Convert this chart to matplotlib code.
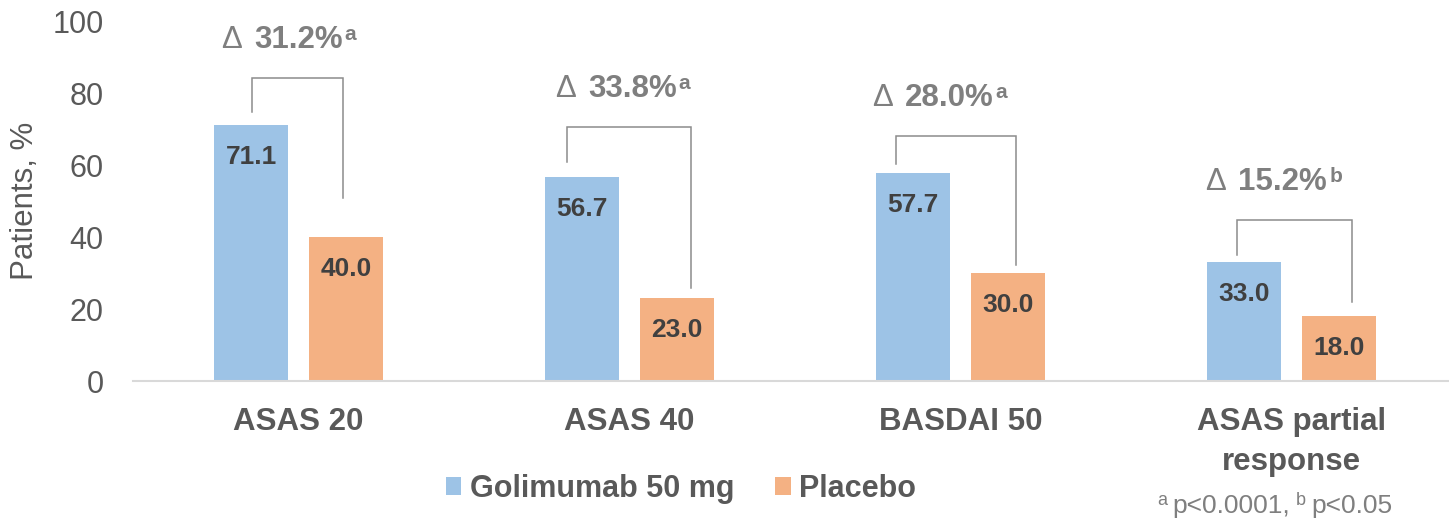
import matplotlib
matplotlib.use('Agg')
import matplotlib.pyplot as plt
import numpy as np
from matplotlib.transforms import ScaledTranslation

plt.rcParams['font.family'] = ['Liberation Sans', 'DejaVu Sans']

categories = ['ASAS 20', 'ASAS 40', 'BASDAI 50', 'ASAS partial\nresponse']
golimumab = [71.1, 56.7, 57.7, 33.0]
placebo = [40.0, 23.0, 30.0, 18.0]
deltas = ['31.2%', '33.8%', '28.0%', '15.2%']
sig_marks = ['a', 'a', 'a', 'b']

# bracket layout (gaps above the bars, height of the top line, x offsets)
bracket_lgap = [3.7, 4.0, 2.7, 2.0]
bracket_rgap = [10.7, 2.7, 2.2, 4.0]
bracket_rise = [13.0, 13.9, 10.4, 11.7]
bracket_dx = [(-0.141, 0.135), (-0.190, 0.185), (-0.196, 0.168), (-0.166, 0.182)]
label_dx = [0.0, 0.008, -0.035, -0.026]

BLUE = '#9DC3E6'
ORANGE = '#F4B183'
GRAY_TXT = '#595959'
DELTA_TXT = '#7F7F7F'

fig = plt.figure(figsize=(14.49, 5.2), dpi=100)
ax = fig.add_axes([0.0918, 0.2673, 0.9137, 0.6923])
renderer = fig.canvas.get_renderer()


def text_run(x0, y0, parts, transform, color, center_on=None, right=False):
    # parts: (text, size, weight, rise_px, gap_px) drawn left to right on one baseline
    arts, widths = [], []
    for s, size, weight, rise, gap in parts:
        t = ax.text(x0, y0, s, transform=transform, fontsize=size, weight=weight,
                    color=color, ha='left', va='baseline', clip_on=False)
        arts.append(t)
        widths.append(t.get_window_extent(renderer).width)
    lefts = []
    pos = 0
    for (s, size, weight, rise, gap), w in zip(parts, widths):
        pos += gap
        lefts.append(pos)
        pos += w
    if right:
        start = -pos
    else:
        start = -(lefts[center_on] + widths[center_on] / 2)
    for t, l, p in zip(arts, lefts, parts):
        t.set_transform(transform + ScaledTranslation((start + l) / fig.dpi,
                                                      p[3] / fig.dpi,
                                                      fig.dpi_scale_trans))


x = np.arange(len(categories))
w = 0.2236
off = 0.1435
b1 = ax.bar(x - off, golimumab, w, color=BLUE, label='Golimumab 50 mg')
b2 = ax.bar(x + off, placebo, w, color=ORANGE, label='Placebo')

for bars in (b1, b2):
    for bar in bars:
        v = bar.get_height()
        ax.annotate(f'{v:.1f}', xy=(bar.get_x() + bar.get_width() / 2, v),
                    xytext=(0, -28), textcoords='offset points', ha='center',
                    va='baseline', fontsize=19, weight='bold', color='#404040')

# significance brackets + difference labels
for i in range(len(categories)):
    xl = x[i] + bracket_dx[i][0]
    xr = x[i] + bracket_dx[i][1]
    top = golimumab[i] + bracket_rise[i]
    ax.plot([xl, xl, xr, xr],
            [golimumab[i] + bracket_lgap[i], top, top, placebo[i] + bracket_rgap[i]],
            color='#8C8C8C', lw=1.1, solid_joinstyle='miter', clip_on=False)
    text_run(x[i] + label_dx[i], top + 8.3,
             [('\u0394', 22.5, 'normal', 0, 0),
              (deltas[i], 22.5, 'bold', 0, 12),
              (sig_marks[i], 15, 'bold', 8, 2)],
             ax.transData, DELTA_TXT, center_on=1)

ax.set_xlim(-0.5, 3.5)
ax.set_ylim(0, 100)
ax.set_yticks(range(0, 101, 20))
ax.set_xticks(x, categories, fontsize=22.5, weight='bold', color=GRAY_TXT,
              linespacing=1.4)
ax.tick_params(axis='x', length=0, pad=19)
ax.tick_params(axis='y', length=0, pad=21, labelsize=22, labelcolor=GRAY_TXT)
for s in ('top', 'right', 'left'):
    ax.spines[s].set_visible(False)
ax.spines['bottom'].set_color('#D9D9D9')
ax.spines['bottom'].set_linewidth(1.5)

fig.text(0.0173, 0.6135, 'Patients, %', rotation=90, ha='center', va='center',
         fontsize=22.5, color=GRAY_TXT)

fig.legend(handles=[b1, b2], loc='center', bbox_to_anchor=(0.470, 0.0596),
           ncol=2, frameon=False, prop={'weight': 'bold', 'size': 22},
           labelcolor=GRAY_TXT, handlelength=0.5, handleheight=0.5,
           handletextpad=0.28, columnspacing=1.35)

text_run(0.9607, 0.0135,
         [('a', 13, 'normal', 8, 0),
          ('p<0.0001,', 19, 'normal', 0, 5),
          ('b', 13, 'normal', 8, 6),
          ('p<0.05', 19, 'normal', 0, 5)],
         fig.transFigure, DELTA_TXT, right=True)

fig.savefig('out.png', dpi=100)
